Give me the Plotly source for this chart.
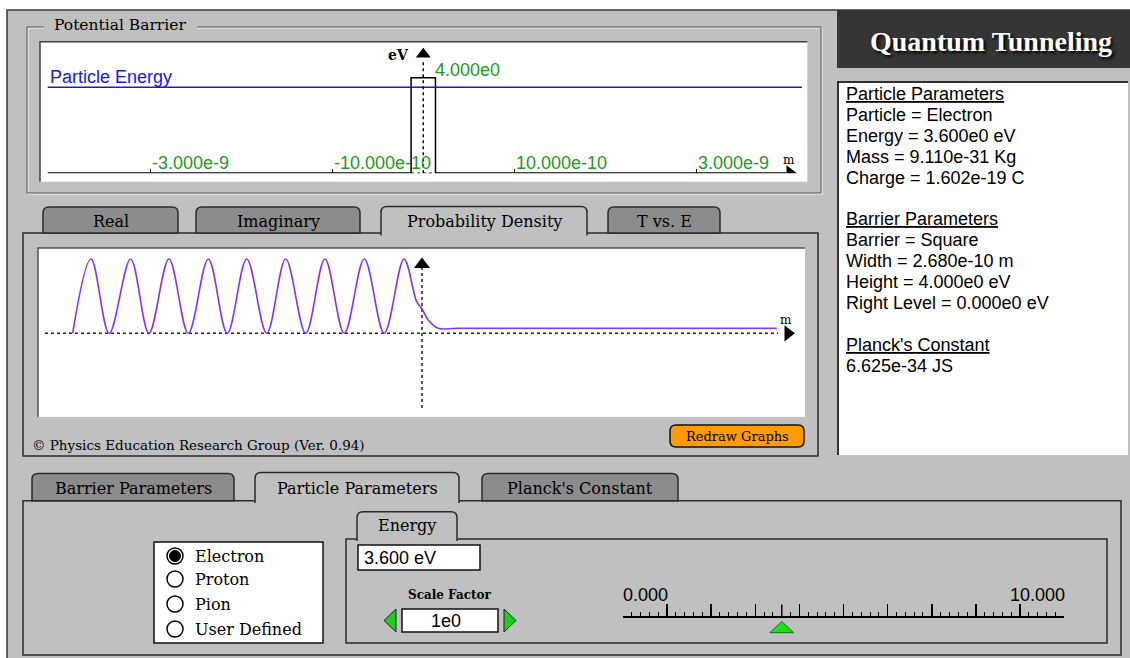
import plotly.graph_objects as go

W, H = 1130, 658

# ---------------- data ----------------
barrier_width_m = 2.680e-10
barrier_height_eV = 4.000
particle_energy_eV = 3.600
barrier_tick_vals = [-3.0e-9, -1.0e-9, 1.0e-9, 3.0e-9]
barrier_tick_text = ["-3.000e-9", "-10.000e-10", "10.000e-10", "3.000e-9"]
barrier_x_range = [-4.212e-9, 4.220e-9]
energy_line_x = [-4.127e-9, 4.162e-9]
axis_x_end = 3.99e-9
height_label = "4.000e0"

# probability density (x in 1e-10 m)
wave_x = [-28.94, -27.42, -25.91, -24.14, -22.62, -20.96, -19.36, -17.70, -16.13,
          -14.52, -12.86, -11.29, -9.63, -8.04, -6.44, -4.78, -3.13, -1.49,
          -0.44, 0.0, 0.52, 1.35, 3.0, 29.39]
wave_density = [0, 4, 0, 4, 0, 4, 0, 4, 0,
                4, 0, 4, 0, 4, 0, 4, 0, 4,
                1.70, 1.31, 0.72, 0.27, 0.27, 0.27]
wave_x_range = [-31.81, 31.73]
wave_y_range = [-4.506, 4.592]

info_lines = ["Particle Parameters", "Particle = Electron", "Energy = 3.600e0 eV",
              "Mass = 9.110e-31 Kg", "Charge = 1.602e-19 C", "",
              "Barrier Parameters", "Barrier = Square", "Width = 2.680e-10 m",
              "Height = 4.000e0 eV", "Right Level = 0.000e0 eV", "",
              "Planck's Constant", "6.625e-34 JS"]
info_headers = ["Particle Parameters", "Barrier Parameters", "Planck's Constant"]

graph_tabs = ["Real", "Imaginary", "Probability Density", "T vs. E"]
graph_tab_active = "Probability Density"
param_tabs = ["Barrier Parameters", "Particle Parameters", "Planck's Constant"]
param_tab_active = "Particle Parameters"
particle_options = ["Electron", "Proton", "Pion", "User Defined"]
particle_selected = "Electron"
energy_text = "3.600 eV"
scale_factor_text = "1e0"
slider_range = [0, 10]
slider_labels = ["0.000", "10.000"]
slider_value = 3.6

# ---------------- styling / geometry ----------------
GRAY = "#c0c0c0"
TABGRAY = "#8c8c8c"
DARK = "#2a2a2a"
GREEN_TXT = "#1f9a1f"
SERIF = "DejaVu Serif"
SANS = "Liberation Sans"

def yd(py):
    return 1 - py / H

shapes = []
annots = []

def rect(x0, y0, x1, y1, fill=None, line=None, lw=1.5):
    shapes.append(dict(type="rect", xref="x", yref="y", x0=x0, y0=y0, x1=x1, y1=y1,
                       fillcolor=fill or "rgba(0,0,0,0)",
                       line=dict(color=line or "rgba(0,0,0,0)", width=lw if line else 0),
                       layer="below"))

def path(d, fill=None, line=None, lw=1.5, xref="x", layer="below"):
    shapes.append(dict(type="path", xref=xref, yref="y", path=d,
                       fillcolor=fill or "rgba(0,0,0,0)",
                       line=dict(color=line or "rgba(0,0,0,0)", width=lw if line else 0),
                       layer=layer))

def tab(x0, x1, y0, y1, active, r=6):
    d = (f"M{x0},{y1} L{x0},{y0 + r} Q{x0},{y0} {x0 + r},{y0} "
         f"L{x1 - r},{y0} Q{x1},{y0} {x1},{y0 + r} L{x1},{y1}")
    if not active:
        d += " Z"
    path(d, fill=GRAY if active else TABGRAY, line=DARK, lw=1.5)

def text(x, y, s, size=16, family=SERIF, color="black", xanchor="center",
         yanchor="middle", xref="x", yref="y", **kw):
    annots.append(dict(x=x, y=y, xref=xref, yref=yref, text=s, showarrow=False,
                       xanchor=xanchor, yanchor=yanchor,
                       font=dict(size=size, family=family, color=color), **kw))

# page frame
rect(7, 10, W + 2, H + 2, fill=GRAY)
path(f"M7,{H} L7,10 L{W},10", line="#3a3a3a", lw=1.5)

# Potential Barrier group box
path("M44,28 L28,28 L28,194 L822,194 L822,28 L197,28", line="#ffffff", lw=1)
path("M44,27 L27,27 L27,193 L821,193 L821,27 L197,27", line="#555555", lw=1)
text(52, 25, "Potential Barrier", size=15.5, xanchor="left")
rect(40, 41.7, 807.3, 181.7, fill="white")
path("M40,181.7 L40,41.7 L807.3,41.7", line="#404040", lw=1.5)

# graph tabs
rect(23, 233, 818, 456, fill=GRAY, line=DARK, lw=1.5)
graph_tab_px = [(43, 178), (196, 360), (381, 587), (608, 720)]
for name, (a, b) in zip(graph_tabs, graph_tab_px):
    act = name == graph_tab_active
    tab(a, b, 206.5 if act else 207, 235.5 if act else 233, act)
    text((a + b) / 2, 221, name, size=16)
rect(38, 248, 805, 417, fill="white")
path("M38,417 L38,248 L805,248", line="#505050", lw=1.5)
text(30, 445, "© Physics Education Research Group (Ver. 0.94)", size=13.5, xanchor="left")
path("M676,425 L798,425 Q804,425 804,431 L804,441 Q804,447 798,447 L676,447 "
     "Q670,447 670,441 L670,431 Q670,425 676,425 Z", fill="#ff9a00", line="#111111", lw=1.5)
text(737, 436, "Redraw Graphs", size=13)

# right column
rect(837, 10, W, 68, fill="#353535")
text(991, 41, "<b>Quantum Tunneling</b>", size=28, family="Liberation Serif", color="white")
annots[-1]["font"]["shadow"] = "2px 2px 3px #000000"
rect(838, 82, W - 2, 455, fill="white")
path("M838,455 L838,82 L1128,82", line="#303030", lw=2)
for i, line in enumerate(info_lines):
    if not line:
        continue
    s = f"<u>{line}</u>" if line in info_headers else line
    text(844, 94 + 20.9 * i, s, size=18, family=SANS, xanchor="left")

# bottom parameter tabs
rect(23, 500.7, 1121, 655, fill=GRAY, line=DARK, lw=1.5)
param_tab_px = [(32, 234), (255, 459), (482, 678)]
for name, (a, b) in zip(param_tabs, param_tab_px):
    act = name == param_tab_active
    tab(a, b, 472.5 if act else 473.5, 503 if act else 500.7, act)
    text((a + b) / 2, 488, name, size=16)

# particle radio box
rect(154, 542, 323, 643, fill="white", line="#111111", lw=1.5)
radio_y = [556, 579, 604, 629]
for name, ry in zip(particle_options, radio_y):
    shapes.append(dict(type="circle", xref="x", yref="y", x0=167, x1=183, y0=ry - 8, y1=ry + 8,
                       fillcolor="white", line=dict(color="black", width=1.5), layer="below"))
    if name == particle_selected:
        shapes.append(dict(type="circle", xref="x", yref="y", x0=169.5, x1=180.5, y0=ry - 5.5, y1=ry + 5.5,
                           fillcolor="black", line=dict(color="black", width=1), layer="below"))
    text(193, ry, name, size=16, xanchor="left")

# energy sub-panel
rect(346, 539, 1107, 643, fill=GRAY, line=DARK, lw=1.5)
tab(357, 457, 511.7, 541, True)
text(407, 525, "Energy", size=16)
rect(358, 545, 480, 570, fill="white", line="#111111", lw=1.5)
text(362, 558, energy_text, size=18, family=SANS, xanchor="left")
text(450, 595, "<b>Scale Factor</b>", size=12)
rect(402, 609, 498, 632, fill="white", line="#111111", lw=1.5)
text(446, 620.5, scale_factor_text, size=18, family=SANS)
path("M396,609 L384,620.5 L396,632 Z", fill="#19d019", line="#222222", lw=1)
path("M504,609 L516,620.5 L504,632 Z", fill="#19d019", line="#222222", lw=1)
# slider pointer (placed on the slider's value axis)
path(f"M{slider_value - 0.27},632.7 L{slider_value},621.5 L{slider_value + 0.27},632.7 Z",
     fill="#19e019", line="#117711", lw=1, xref="x4", layer="above")

# ---------------- figure ----------------
fig = go.Figure()

# barrier plot (x2, y2)
hw = barrier_width_m / 2
fig.add_trace(go.Scatter(x=[energy_line_x[0], -hw, None, hw, axis_x_end], y=[0, 0, None, 0, 0],
                         mode="lines", line=dict(color="black", width=2),
                         xaxis="x2", yaxis="y2", hoverinfo="skip"))
fig.add_trace(go.Scatter(x=[-hw, hw], y=[0, 0], mode="lines",
                         line=dict(color="black", width=1.5, dash="3px,3px"),
                         xaxis="x2", yaxis="y2", hoverinfo="skip"))
fig.add_trace(go.Scatter(x=[-hw, -hw, hw, hw], y=[0, barrier_height_eV, barrier_height_eV, 0],
                         mode="lines", line=dict(color="black", width=1.5),
                         xaxis="x2", yaxis="y2", hoverinfo="skip"))
fig.add_trace(go.Scatter(x=energy_line_x, y=[particle_energy_eV] * 2, mode="lines",
                         line=dict(color="#1515f0", width=1.5),
                         xaxis="x2", yaxis="y2", hoverinfo="skip"))
fig.add_trace(go.Scatter(x=[0, 0], y=[0, 4.66], mode="lines",
                         line=dict(color="black", width=1.5, dash="dot"),
                         xaxis="x2", yaxis="y2", hoverinfo="skip"))
fig.add_trace(go.Scatter(x=[0], y=[4.98], mode="markers",
                         marker=dict(symbol="triangle-up", size=13, color="black"),
                         xaxis="x2", yaxis="y2", hoverinfo="skip"))
fig.add_trace(go.Scatter(x=[4.03e-9], y=[0], mode="markers",
                         marker=dict(symbol="triangle-right", size=14, color="black"),
                         xaxis="x2", yaxis="y2", hoverinfo="skip"))
for tv, tt in zip(barrier_tick_vals, barrier_tick_text):
    text(tv, 0.45, tt, size=18, family=SANS, color=GREEN_TXT, xanchor="left", xref="x2", yref="y2")
text(hw * 0.82, 4.32, height_label, size=18, family=SANS, color=GREEN_TXT, xanchor="left", xref="x2", yref="y2")
text(-4.124e-9, 4.03, "Particle Energy", size=18, family=SANS, color="#1515f0", xanchor="left", xref="x2", yref="y2")
text(-1.4e-10, 4.95, "<b>eV</b>", size=14, xanchor="right", xref="x2", yref="y2")
text(4.02e-9, 0.56, "m", size=12, xref="x2", yref="y2")

# probability density plot (x3, y3)
fig.add_trace(go.Scatter(x=[-31.23, 29.5], y=[0, 0], mode="lines",
                         line=dict(color="#222222", width=1.5, dash="3px,3px"),
                         xaxis="x3", yaxis="y3", hoverinfo="skip"))
fig.add_trace(go.Scatter(x=[0, 0], y=[-4.02, 3.84], mode="lines",
                         line=dict(color="#222222", width=1.5, dash="dot"),
                         xaxis="x3", yaxis="y3", hoverinfo="skip"))
fig.add_trace(go.Scatter(x=wave_x, y=wave_density, mode="lines",
                         line=dict(color="#8433ff", width=1.6, shape="spline", smoothing=1.0),
                         xaxis="x3", yaxis="y3", hoverinfo="skip"))
fig.add_trace(go.Scatter(x=[0], y=[3.70], mode="markers",
                         marker=dict(symbol="triangle-up", size=14, color="black"),
                         xaxis="x3", yaxis="y3", hoverinfo="skip"))
fig.add_trace(go.Scatter(x=[30.32], y=[0], mode="markers",
                         marker=dict(symbol="triangle-right", size=14, color="black"),
                         xaxis="x3", yaxis="y3", hoverinfo="skip"))
text(30.16, 0.72, "m", size=12, xref="x3", yref="y3")

# energy slider (x4, y4): 16 px per y unit, baseline at y=0
fig.add_trace(go.Scatter(x=[slider_value, slider_value], y=[0, 0.72], mode="lines",
                         line=dict(color="black", width=1.5),
                         xaxis="x4", yaxis="y4", hoverinfo="skip"))
text(slider_range[0], 1.3, slider_labels[0], size=18, family=SANS, xanchor="left", xref="x4", yref="y4", xshift=-2)
text(slider_range[1], 1.3, slider_labels[1], size=18, family=SANS, xanchor="right", xref="x4", yref="y4", xshift=3)

hidden = dict(visible=False, showgrid=False, zeroline=False, fixedrange=True)
fig.update_layout(
    width=W, height=H, margin=dict(l=0, r=0, t=0, b=0, pad=0),
    paper_bgcolor="white", plot_bgcolor="rgba(0,0,0,0)",
    showlegend=False, hovermode=False,
    xaxis=dict(range=[0, W], domain=[0, 1], **hidden),
    yaxis=dict(range=[H, 0], domain=[0, 1], **hidden),
    xaxis2=dict(domain=[40 / W, 807.3 / W], range=barrier_x_range, anchor="y2",
                showgrid=False, zeroline=False, showline=False, ticks="inside",
                tickvals=barrier_tick_vals, ticklen=4, tickwidth=1.5, tickcolor="black",
                showticklabels=False, fixedrange=True),
    yaxis2=dict(domain=[yd(173.3), yd(41.7)], range=[0, 5.506], anchor="x2", **hidden),
    xaxis3=dict(domain=[38 / W, 805 / W], range=wave_x_range, anchor="y3", **hidden),
    yaxis3=dict(domain=[yd(417), yd(248)], range=wave_y_range, anchor="x3", **hidden),
    xaxis4=dict(domain=[622.9 / W, 1064.2 / W], range=slider_range, anchor="y4",
                showgrid=False, zeroline=False, showline=True, linecolor="black", linewidth=1.5,
                ticks="inside", tick0=0, dtick=1, ticklen=12, tickwidth=1.5, tickcolor="black",
                minor=dict(dtick=0.2, ticks="inside", ticklen=4, tickcolor="black", tickwidth=1),
                showticklabels=False, fixedrange=True),
    yaxis4=dict(domain=[yd(616), yd(590)], range=[0, 26 / 16], anchor="x4", **hidden),
    shapes=shapes, annotations=annots,
)

fig.write_html("out.html", config={"displayModeBar": False, "staticPlot": True},
               post_script="document.body.style.margin='0';")
